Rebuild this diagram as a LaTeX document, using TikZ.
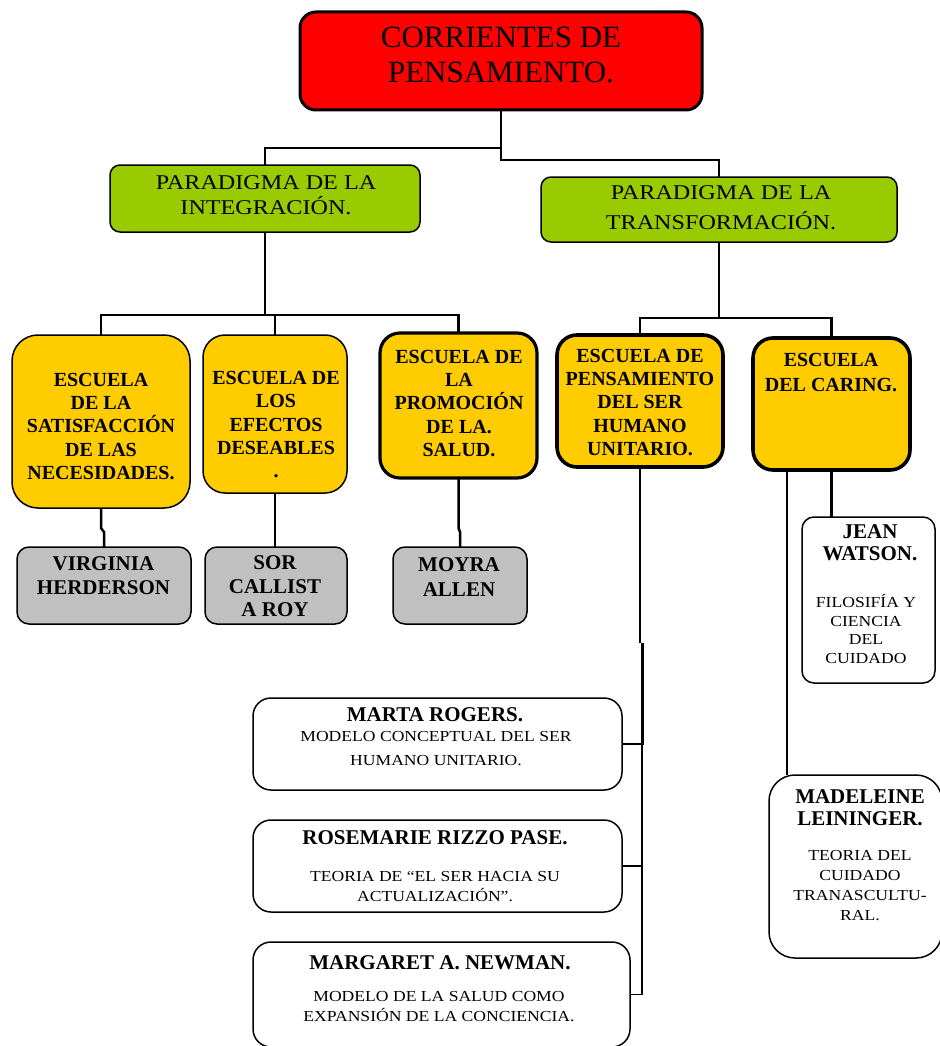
\documentclass[tikz,border=0pt]{standalone}
\usepackage{fontspec}
\setmainfont{Liberation Serif}
\newfontfamily\wide[FakeStretch=1.15]{Liberation Serif}
\definecolor{myred}{HTML}{FF0000}
\definecolor{mygreen}{HTML}{99CC00}
\definecolor{myyellow}{HTML}{FFCC00}
\definecolor{mygray}{HTML}{C0C0C0}
\begin{document}
\begin{tikzpicture}[x=1pt,y=-1pt,
  box/.style={draw=black, inner sep=0pt, outer sep=0pt, line width=1.5pt, rounded corners=12pt},
  thickbox/.style={box, line width=3.2pt},
  conn/.style={draw=black, line width=2.5pt, line join=miter},
  thinconn/.style={draw=black, line width=1.5pt},
  txt/.style={align=center, inner sep=0pt, outer sep=0pt, text=black},
  ybold/.style={txt, font=\bfseries\fontsize{20}{23.3}\selectfont},
  gbold/.style={txt, font=\bfseries\fontsize{21}{24.5}\selectfont},
  wtitle/.style={txt, font=\bfseries\fontsize{21}{22}\selectfont},
  wsub/.style={txt, font=\wide\fontsize{15.3}{20}\selectfont},
]
\useasboundingbox (0,0) rectangle (939,1046);

% ---------- boxes ----------
\node[thickbox, line width=3pt, fill=myred, rounded corners=16pt, minimum width=402pt, minimum height=98pt] (top) at (501,61) {};
\node[box, fill=mygreen, rounded corners=10pt, minimum width=310pt, minimum height=67pt] (gL) at (265,198.5) {};
\node[box, fill=mygreen, rounded corners=10pt, minimum width=356pt, minimum height=65pt] (gR) at (719,209.5) {};

\node[box, fill=myyellow, rounded corners=26pt, minimum width=178pt, minimum height=173pt] (y1) at (101,421.5) {};
\node[box, fill=myyellow, rounded corners=22pt, minimum width=144pt, minimum height=158pt] (y2) at (275,414) {};
\node[thickbox, fill=myyellow, rounded corners=20pt, minimum width=157pt, minimum height=145pt] (y3) at (458.5,405.5) {};
\node[thickbox, line width=3.6pt, fill=myyellow, rounded corners=20pt, minimum width=166pt, minimum height=132pt] (y4) at (640,401) {};
\node[thickbox, line width=3.6pt, fill=myyellow, rounded corners=20pt, minimum width=157pt, minimum height=132pt] (y5) at (831.5,404) {};

\node[box, fill=mygray, rounded corners=12pt, minimum width=174pt, minimum height=77pt] (g1) at (104,585.5) {};
\node[box, fill=mygray, rounded corners=12pt, minimum width=142pt, minimum height=77pt] (g2) at (276,585.5) {};
\node[box, fill=mygray, rounded corners=12pt, minimum width=134pt, minimum height=77pt] (g3) at (460,585.5) {};

\node[box, fill=white, rounded corners=12pt, minimum width=133pt, minimum height=166pt] (JW) at (868.5,600) {};
\node[box, fill=white, rounded corners=18pt, minimum width=369pt, minimum height=92pt] (W1) at (437.5,744) {};
\node[box, fill=white, rounded corners=18pt, minimum width=369pt, minimum height=92pt] (W2) at (437.5,866) {};
\node[box, fill=white, rounded corners=18pt, minimum width=377pt, minimum height=105pt] (W3) at (441.5,994.5) {};
\node[box, fill=white, rounded corners=26pt, minimum width=173pt, minimum height=183pt] (Mad) at (855.5,866.5) {};

% ---------- texts ----------
\node[txt, font=\fontsize{31}{35}\selectfont] (tTop) at (501,55) {CORRIENTES DE\\PENSAMIENTO.};
\node[txt, font=\wide\fontsize{21}{25}\selectfont] (tGL) at (266,195.5) {PARADIGMA DE LA\\INTEGRACIÓN.};
\node[txt, font=\wide\fontsize{21}{30}\selectfont] (tGR) at (721,208) {PARADIGMA DE LA\\TRANSFORMACIÓN.};

\node[ybold] (tY1) at (101,426.5) {ESCUELA\\DE LA\\SATISFACCIÓN\\DE LAS\\NECESIDADES.};
\node[ybold] (tY2) at (276,424.7) {ESCUELA DE\\LOS\\EFECTOS\\DESEABLES\\.};
\node[ybold] (tY3) at (459,403.5) {ESCUELA DE\\LA\\PROMOCIÓN\\DE LA.\\SALUD.};
\node[ybold] (tY4) at (640,402.5) {ESCUELA DE\\PENSAMIENTO\\DEL SER\\HUMANO\\UNITARIO.};
\node[ybold, font=\bfseries\fontsize{20}{25}\selectfont] (tY5) at (831,372.5) {ESCUELA\\DEL CARING.};

\node[gbold] (tG1) at (103.5,575.5) {VIRGINIA\\HERDERSON};
\node[gbold, font=\bfseries\fontsize{21}{23.5}\selectfont] (tG2) at (275,586.5) {SOR\\CALLIST\\A ROY};
\node[gbold] (tG3) at (459,577) {MOYRA\\ALLEN};

\node[wtitle] (tJW) at (870,543) {JEAN\\WATSON.};
\node[wsub, font=\wide\fontsize{15.3}{18.7}\selectfont] (sJW) at (866,629) {FILOSIFÍA Y\\CIENCIA\\DEL\\CUIDADO};

\node[wtitle] (tW1) at (435,715) {MARTA ROGERS.};
\node[wsub, font=\wide\fontsize{15.3}{24}\selectfont] (sW1) at (436,749) {MODELO CONCEPTUAL DEL SER\\HUMANO UNITARIO.};
\node[wtitle] (tW2) at (435,838) {ROSEMARIE RIZZO PASE.};
\node[wsub] (sW2) at (435,887) {TEORIA DE “EL SER HACIA SU\\ACTUALIZACIÓN”.};
\node[wtitle] (tW3) at (440,963) {MARGARET A. NEWMAN.};
\node[wsub] (sW3) at (439,1007) {MODELO DE LA SALUD COMO\\EXPANSIÓN DE LA CONCIENCIA.};

\node[wtitle] (tMad) at (860,808) {MADELEINE\\LEININGER.};
\node[wsub] (sMad) at (860,886) {TEORIA DEL\\CUIDADO\\TRANASCULTU-\\RAL.};

% ---------- connectors ----------
\coordinate (j1) at (501,148);
\coordinate (j2) at (501,160);
\draw[conn] (top.south) -- (j2) -| (gR.north);
\draw[conn] (j1) -| (gL.north);

\coordinate (hL) at (265,315);
\draw[conn] (gL.south) -- (hL);
\draw[conn] (y1.north) |- (hL) -| (y3.north);
\draw[conn] (hL) -| (y2.north);

\coordinate (hR) at (719,318);
\draw[conn] (gR.south) -- (hR);
\draw[conn] (y4.north) |- (hR) -| (y5.north);

\draw[conn] (y1.south) -- ++(0,20) -- ++(3,4) -- (g1.north);
\draw[conn] (y2.south) -- (y2.south |- g2.north);
\draw[conn] (y3.south) -- ++(0,50) -- ++(1.5,4) -- (g3.north);

\coordinate (v0) at (640,643);
\coordinate (v1) at (642,643);
\coordinate (v2) at (642,745);
\coordinate (v3) at (642,995);
\draw[thinconn] (y4.south) -- (v0);
\draw[draw=black, line width=3pt] (v1) -- (v2);
\draw[thinconn] (v2) -- (v3);
\draw[thinconn] (W1.east) -- (W1.east -| v2);
\draw[thinconn] (W2.east) -- (W2.east -| v2);
\draw[thinconn] (W3.east) -- (W3.east -| v3);

\coordinate (c5) at (787,470);
\draw[conn] (c5) -- (c5 |- Mad.north);
\draw[conn] (y5.south) -- (y5.south |- JW.north);
\end{tikzpicture}
\end{document}
